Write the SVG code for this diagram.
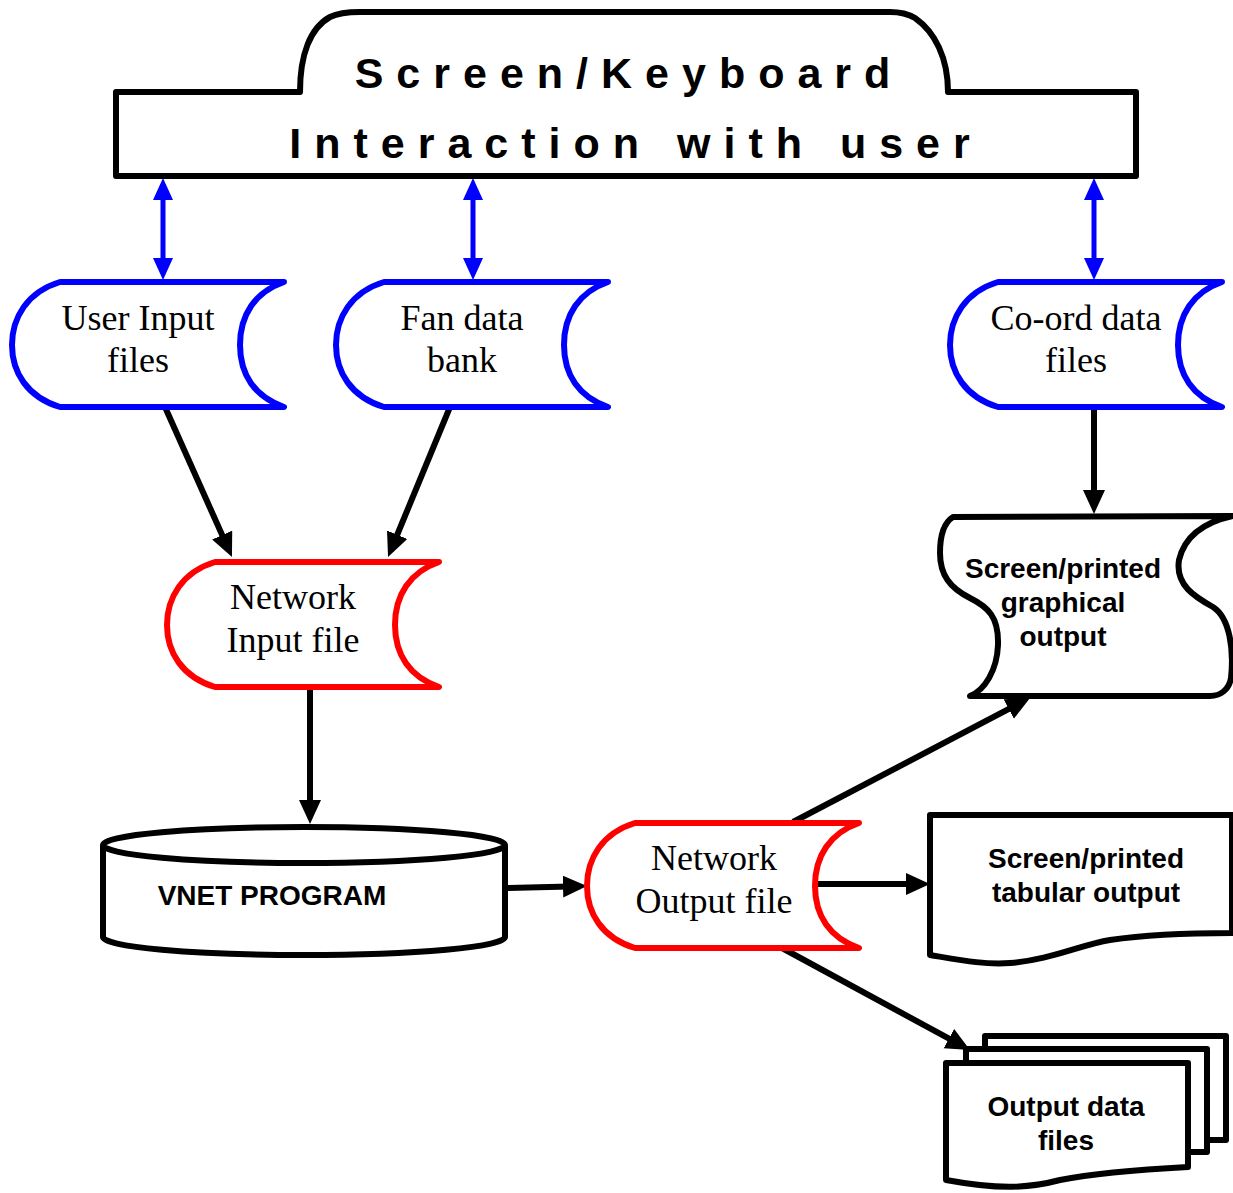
<svg xmlns="http://www.w3.org/2000/svg" width="1233" height="1193" viewBox="0 0 1233 1193">
  <style>
    .serif { font-family: "Liberation Serif", "Times New Roman", serif; font-size: 36px; fill: #000; text-anchor: middle; }
    .bold { font-family: "Liberation Sans", Arial, sans-serif; font-weight: bold; font-size: 28px; fill: #000; text-anchor: middle; }
    .title { font-family: "Liberation Sans", Arial, sans-serif; font-weight: bold; font-size: 43px; letter-spacing: 13px; fill: #000; text-anchor: middle; }
    .shape { fill: #fff; stroke: #000; stroke-width: 6; stroke-linejoin: round; }
    .store { fill: #fff; stroke-width: 6; stroke-linejoin: round; }
    .link { stroke: #000; stroke-width: 6; fill: none; marker-end: url(#arrowBlack); }
    .dual { stroke: #0000ff; stroke-width: 5; fill: none; marker-start: url(#arrowBlue); marker-end: url(#arrowBlue); }
  </style>
  <defs>
    <marker id="arrowBlack" markerUnits="userSpaceOnUse" markerWidth="26" markerHeight="24" refX="17" refY="11" orient="auto">
      <path d="M0,0 L24,11 L0,22 Z" fill="#000"/>
    </marker>
    <marker id="arrowBlue" markerUnits="userSpaceOnUse" markerWidth="24" markerHeight="22" refX="15" refY="10" orient="auto-start-reverse">
      <path d="M0,0 L22,10 L0,20 Z" fill="#0000ff"/>
    </marker>
    <!-- stored-data outline: rounded left side, concave right side -->
    <path id="storeShape" d="M48,0 L272,0 C243,10 228,33 228,63 C228,93 243,115 272,125 L48,125 C15,115 0,90 0,63 C0,36 15,10 48,0 Z"/>
  </defs>

  <rect width="1233" height="1193" fill="#fff"/>

  <!-- connectors -->
  <g id="connectors">
    <line class="dual" x1="163" y1="185" x2="163" y2="273"/>
    <line class="dual" x1="473" y1="185" x2="473" y2="273"/>
    <line class="dual" x1="1094" y1="185" x2="1094" y2="273"/>
    <line class="link" x1="165" y1="407" x2="229.1" y2="550.6"/>
    <line class="link" x1="450" y1="407" x2="390.7" y2="550.5"/>
    <line class="link" x1="310" y1="688" x2="310" y2="817"/>
    <line class="link" x1="508" y1="888" x2="580" y2="886.2"/>
    <line class="link" x1="1094" y1="407" x2="1094" y2="507"/>
    <line class="link" x1="793" y1="822" x2="1023.8" y2="701.2"/>
    <line class="link" x1="815" y1="884" x2="923" y2="884"/>
    <line class="link" x1="782" y1="948" x2="963.8" y2="1046.7"/>
  </g>

  <!-- terminal: screen / keyboard -->
  <g id="terminal">
    <path class="shape" stroke-width="7" d="M116,92 L300,92 C300,55 310,28 330,17 Q340,12 360,12 L890,12 Q905,12 915,18 C935,32 948,58 948,92 L1136,92 L1136,176 L116,176 Z"/>
    <text class="title" x="629" y="88">Screen/Keyboard</text>
    <text class="title" x="636" y="158">Interaction with user</text>
  </g>

  <g id="userInput">
    <use href="#storeShape" x="12" y="282" class="store" stroke="#0000ff"/>
    <text class="serif" x="138" y="330">User Input</text>
    <text class="serif" x="138" y="372">files</text>
  </g>

  <g id="fanData">
    <use href="#storeShape" x="336" y="282" class="store" stroke="#0000ff"/>
    <text class="serif" x="462" y="330">Fan data</text>
    <text class="serif" x="462" y="372">bank</text>
  </g>

  <g id="coordData">
    <use href="#storeShape" x="950" y="282" class="store" stroke="#0000ff"/>
    <text class="serif" x="1076" y="330">Co-ord data</text>
    <text class="serif" x="1076" y="372">files</text>
  </g>

  <g id="networkInput">
    <use href="#storeShape" x="167" y="562" class="store" stroke="#ff0000"/>
    <text class="serif" x="293" y="609">Network</text>
    <text class="serif" x="293" y="652">Input file</text>
  </g>

  <g id="vnetProgram">
    <path class="shape" d="M103,845 L103,937 A201,18 0 0 0 505,937 L505,845"/>
    <ellipse class="shape" cx="304" cy="845" rx="201" ry="18"/>
    <text class="bold" x="272" y="905" font-size="24">VNET PROGRAM</text>
  </g>

  <g id="networkOutput">
    <use href="#storeShape" x="587" y="823" class="store" stroke="#ff0000"/>
    <text class="serif" x="714" y="870">Network</text>
    <text class="serif" x="714" y="913">Output file</text>
  </g>

  <g id="graphicalOutput">
    <path class="shape" d="M953,517 L1233,516 C1205,522 1185,535 1179,560 C1175,585 1195,597 1213,607 C1230,618 1234,650 1231,678 C1229,690 1220,696 1210,696 L970,696 C985,690 997,670 998,645 C999,617 988,607 970,598 C950,588 940,575 940,553 C940,533 945,522 953,517 Z"/>
    <text class="bold" x="1063" y="578">Screen/printed</text>
    <text class="bold" x="1063" y="612">graphical</text>
    <text class="bold" x="1063" y="646">output</text>
  </g>

  <g id="tabularOutput">
    <path class="shape" d="M930,815 L1232,815 L1232,933 C1190,933 1150,934 1110,940 C1080,945 1050,960 1010,963 C985,965 960,960 930,955 Z"/>
    <text class="bold" x="1086" y="868">Screen/printed</text>
    <text class="bold" x="1086" y="902">tabular output</text>
  </g>

  <g id="outputDataFiles">
    <rect class="shape" x="985" y="1036" width="241" height="104"/>
    <rect class="shape" x="966" y="1049" width="241" height="103"/>
    <path class="shape" d="M946,1063 L1188,1063 L1188,1167 C1150,1169 1100,1172 1060,1180 C1030,1188 1000,1190 946,1180 Z"/>
    <text class="bold" x="1066" y="1116">Output data</text>
    <text class="bold" x="1066" y="1150">files</text>
  </g>
</svg>
